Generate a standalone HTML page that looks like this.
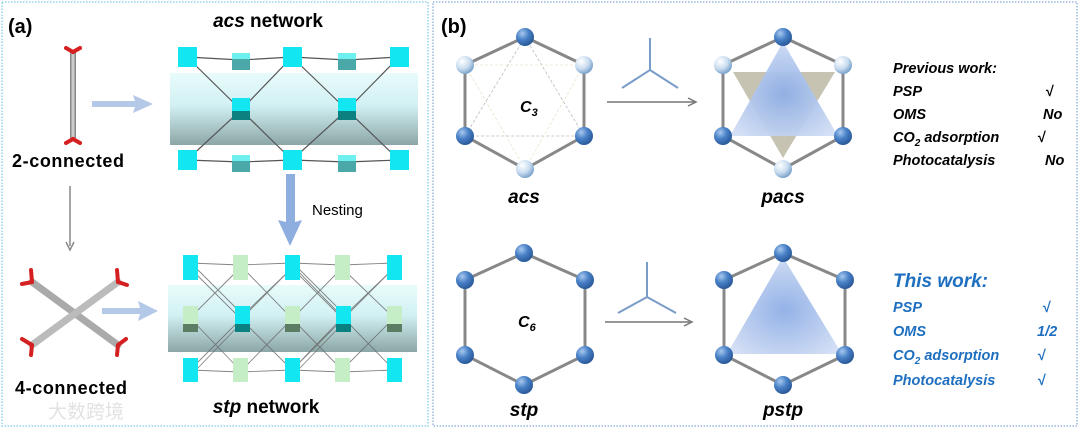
<!DOCTYPE html>
<html><head><meta charset="utf-8"><style>
body{margin:0;background:#fff;width:1080px;height:429px;overflow:hidden}
svg{display:block}
text{font-family:"Liberation Sans",sans-serif}
</style></head><body>
<svg width="1080" height="429" viewBox="0 0 1080 429" xmlns="http://www.w3.org/2000/svg">
<defs>
<radialGradient id="sb" cx="35%" cy="30%" r="70%"><stop offset="0" stop-color="#a8c8ee"/><stop offset="0.5" stop-color="#4a82c8"/><stop offset="1" stop-color="#2a5a9a"/></radialGradient>
<radialGradient id="sl" cx="35%" cy="30%" r="70%"><stop offset="0" stop-color="#ffffff"/><stop offset="0.6" stop-color="#c8dcf0"/><stop offset="1" stop-color="#7ea4cc"/></radialGradient>
<linearGradient id="cyl" x1="0" y1="0" x2="0" y2="1"><stop offset="0" stop-color="#e6fbfb"/><stop offset="0.45" stop-color="#cdeff2"/><stop offset="1" stop-color="#7f9c9c"/></linearGradient>
<radialGradient id="tri" cx="50%" cy="55%" r="60%"><stop offset="0" stop-color="#8eaee6"/><stop offset="1" stop-color="#d2def4"/></radialGradient>
<linearGradient id="rod" x1="0" y1="0" x2="1" y2="0"><stop offset="0" stop-color="#777"/><stop offset="0.5" stop-color="#ddd"/><stop offset="1" stop-color="#777"/></linearGradient>
</defs>
<rect x="2" y="2" width="426" height="424" fill="none" stroke="#8fd4ea" stroke-width="1.5" stroke-dasharray="1.5 1.5"/>
<rect x="433" y="2" width="644" height="424" fill="none" stroke="#9ab8e0" stroke-width="1.5" stroke-dasharray="1.5 1.5"/>

<text x="8" y="33" font-size="20" font-weight="bold">(a)</text>
<text x="268" y="27" font-size="19" font-weight="bold" text-anchor="middle"><tspan font-style="italic">acs</tspan> network</text>
<rect x="70" y="52" width="6" height="86" fill="url(#rod)"/>
<g stroke="#d42020" stroke-width="4" stroke-linecap="round">
<line x1="73" y1="52" x2="66" y2="48"/><line x1="73" y1="52" x2="80" y2="48"/>
<line x1="73" y1="139" x2="66" y2="143"/><line x1="73" y1="139" x2="80" y2="143"/></g>
<text x="12" y="167" font-size="18" font-weight="bold" letter-spacing="0.6">2-connected</text>
<path d="M92,101 L135,101 L133,95 L153,104 L133,113 L135,107 L92,107 Z" fill="#b4c8e8"/>
<line x1="70" y1="186" x2="70" y2="246" stroke="#888" stroke-width="1.5"/>
<path d="M66,242 L70,250 L74,242" fill="none" stroke="#888" stroke-width="1.5"/>
<g stroke-width="7" stroke-linecap="round">
<line x1="32" y1="282" x2="118" y2="345" stroke="#aaa"/><line x1="118" y1="282" x2="32" y2="345" stroke="#bbb"/></g>
<g stroke="#d42020" stroke-width="4" stroke-linecap="round">
<line x1="32" y1="282" x2="31" y2="270"/><line x1="32" y1="282" x2="22" y2="284"/>
<line x1="118" y1="282" x2="117" y2="270"/><line x1="118" y1="282" x2="127" y2="285"/>
<line x1="32" y1="345" x2="22" y2="339"/><line x1="32" y1="345" x2="31" y2="355"/>
<line x1="118" y1="345" x2="126" y2="339"/><line x1="118" y1="345" x2="117" y2="355"/></g>
<path d="M102,308 L140,308 L138,301 L158,311 L138,321 L140,314 L102,314 Z" fill="#b4c8e8"/>
<text x="15" y="394" font-size="18" font-weight="bold" letter-spacing="0.6">4-connected</text>
<text x="48" y="418" font-size="19" fill="#e2e2e2" font-family="Liberation Sans,Noto Sans CJK SC,sans-serif">大数跨境</text>

<rect x="170" y="73" width="248" height="72" fill="url(#cyl)" opacity="0.9"/>
<g stroke="#555" stroke-width="1.2">
<polyline points="187,57 241,60 292,57 347,60 399,57" fill="none"/>
<polyline points="187,160 241,162 292,160 347,162 399,160" fill="none"/>
<line x1="187" y1="57" x2="241" y2="110"/><line x1="292" y1="57" x2="241" y2="110"/>
<line x1="292" y1="57" x2="347" y2="110"/><line x1="399" y1="57" x2="347" y2="110"/>
<line x1="187" y1="160" x2="241" y2="110"/><line x1="292" y1="160" x2="241" y2="110"/>
<line x1="292" y1="160" x2="347" y2="110"/><line x1="399" y1="160" x2="347" y2="110"/></g>
<g fill="#12e6f0">
<rect x="178" y="47" width="19" height="20"/><rect x="283" y="47" width="19" height="20"/><rect x="390" y="47" width="19" height="20"/>
<rect x="178" y="150" width="19" height="20"/><rect x="283" y="150" width="19" height="20"/><rect x="390" y="150" width="19" height="20"/>
<rect x="232" y="98" width="18" height="22"/><rect x="338" y="98" width="18" height="22"/></g>
<g fill="#4aa8a8"><rect x="232" y="53" width="18" height="17"/><rect x="338" y="53" width="18" height="17"/>
<rect x="232" y="155" width="18" height="17"/><rect x="338" y="155" width="18" height="17"/>
<rect x="232" y="111" width="18" height="9" fill="#0a8080"/><rect x="338" y="111" width="18" height="9" fill="#0a8080"/></g>
<g fill="#6ef0f0"><rect x="232" y="53" width="18" height="6"/><rect x="338" y="53" width="18" height="6"/><rect x="232" y="155" width="18" height="6"/><rect x="338" y="155" width="18" height="6"/></g>
<path d="M286,174 L295,174 L295,222 L302,220 L290,246 L278,220 L286,222 Z" fill="#8eaee0"/>
<text x="312" y="215" font-size="15">Nesting</text>

<rect x="168" y="285" width="249" height="67" fill="url(#cyl)" opacity="0.9"/>
<g stroke="#666" stroke-width="0.9" opacity="0.8">
<polyline points="190,263 240,265 292,263 342,265 394,263" fill="none"/>
<polyline points="190,370 240,372 292,370 342,372 394,370" fill="none"/>
<path d="M190,268 L240,318 L292,268 L342,318 L394,268 M190,268 L292,370 M240,265 L342,370 M292,265 L394,370 M190,370 L292,268 M240,372 L342,268 M292,370 L394,268 M190,318 L240,268 M190,318 L240,370 M394,318 L342,268 M394,318 L342,370 M240,318 L292,370 M342,318 L292,370" fill="none"/>
<path d="M196,268 L246,318 M196,370 L246,318 M298,268 L348,318 M298,370 L348,318" fill="none"/></g>
<g fill="#12e6f0">
<rect x="183" y="255" width="15" height="25"/><rect x="285" y="255" width="15" height="25"/><rect x="387" y="255" width="15" height="25"/>
<rect x="183" y="358" width="15" height="24"/><rect x="285" y="358" width="15" height="24"/><rect x="387" y="358" width="15" height="24"/>
<rect x="235" y="306" width="15" height="26"/><rect x="336" y="306" width="15" height="26"/></g>
<g fill="#c6eec6"><rect x="233" y="255" width="15" height="25"/><rect x="335" y="255" width="15" height="25"/>
<rect x="233" y="358" width="15" height="24"/><rect x="335" y="358" width="15" height="24"/>
<rect x="183" y="306" width="15" height="20"/><rect x="285" y="306" width="15" height="20"/><rect x="387" y="306" width="15" height="20"/></g>
<g fill="#5c7c64"><rect x="183" y="324" width="15" height="8"/><rect x="285" y="324" width="15" height="8"/><rect x="387" y="324" width="15" height="8"/></g>
<g fill="#0a8080"><rect x="235" y="324" width="15" height="8"/><rect x="336" y="324" width="15" height="8"/></g>
<text x="266" y="413" font-size="19" font-weight="bold" text-anchor="middle"><tspan font-style="italic">stp</tspan> network</text>

<text x="441" y="33" font-size="20" font-weight="bold">(b)</text>
<g stroke="#888" stroke-width="3" fill="none">
<polygon points="525,37 584,65 584,136 525,169 465,136 465,65"/>
<polygon points="783,37 843,65 843,136 783,169 723,136 723,65"/>
<polygon points="524,253 585,280 585,355 524,385 465,355 465,280"/>
<polygon points="783,253 845,280 845,355 783,385 724,355 724,280"/></g>
<g stroke="#bbb" stroke-width="0.8" stroke-dasharray="3 2" fill="none">
<polygon points="525,37 584,136 465,136"/><polygon points="465,65 584,65 525,169" stroke="#e8e4cc"/></g>
<text x="520" y="112" font-size="16" font-style="italic" font-weight="bold">C<tspan font-size="11" dy="4">3</tspan></text>
<polygon points="733,72 835,72 783,158" fill="#b8b4a0" opacity="0.8"/>
<polygon points="783,42 838,136 730,136" fill="url(#tri)" opacity="0.95"/>
<polygon points="783,257 842,354 727,354" fill="url(#tri)" opacity="0.95"/>
<text x="518" y="327" font-size="16" font-style="italic" font-weight="bold">C<tspan font-size="11" dy="4">6</tspan></text>
<g fill="url(#sb)">
<circle cx="525" cy="37" r="9"/><circle cx="465" cy="136" r="9"/><circle cx="584" cy="136" r="9"/>
<circle cx="783" cy="37" r="9"/><circle cx="723" cy="136" r="9"/><circle cx="843" cy="136" r="9"/>
<circle cx="524" cy="253" r="9"/><circle cx="585" cy="280" r="9"/><circle cx="585" cy="355" r="9"/><circle cx="524" cy="385" r="9"/><circle cx="465" cy="355" r="9"/><circle cx="465" cy="280" r="9"/>
<circle cx="783" cy="253" r="9"/><circle cx="845" cy="280" r="9"/><circle cx="845" cy="355" r="9"/><circle cx="783" cy="385" r="9"/><circle cx="724" cy="355" r="9"/><circle cx="724" cy="280" r="9"/></g>
<g fill="url(#sl)">
<circle cx="465" cy="65" r="9"/><circle cx="584" cy="65" r="9"/><circle cx="525" cy="169" r="9"/>
<circle cx="723" cy="65" r="9"/><circle cx="843" cy="65" r="9"/><circle cx="783" cy="169" r="9"/></g>
<g stroke="#777" stroke-width="1.5" fill="none">
<line x1="607" y1="102" x2="694" y2="102"/><path d="M688,98 L696,102 L688,106"/>
<line x1="605" y1="322" x2="690" y2="322"/><path d="M684,318 L692,322 L684,326"/></g>
<g stroke="#7a9cc8" stroke-width="2" fill="none">
<path d="M650,38 L650,70 L622,88 M650,70 L678,88"/>
<path d="M647,262 L647,297 L618,313 M647,297 L676,313"/></g>
<g font-size="19" font-weight="bold" font-style="italic" text-anchor="middle">
<text x="524" y="203">acs</text><text x="783" y="203">pacs</text>
<text x="524" y="416">stp</text><text x="783" y="416">pstp</text></g>
<g font-size="14.5" font-weight="bold" font-style="italic">
<text x="893" y="73">Previous work:</text>
<text x="893" y="96">PSP</text><text x="1045" y="96">√</text>
<text x="893" y="119">OMS</text><text x="1043" y="119">No</text>
<text x="893" y="142">CO<tspan font-size="10" dy="4">2</tspan><tspan dy="-4"> adsorption</tspan></text><text x="1037" y="142">√</text>
<text x="893" y="165">Photocatalysis</text><text x="1045" y="165">No</text>
</g>
<g font-size="14.5" font-weight="bold" font-style="italic" fill="#1e6fc0">
<text x="893" y="287" font-size="19">This work:</text>
<text x="893" y="312">PSP</text><text x="1042" y="312">√</text>
<text x="893" y="336">OMS</text><text x="1037" y="336">1/2</text>
<text x="893" y="360">CO<tspan font-size="10" dy="4">2</tspan><tspan dy="-4"> adsorption</tspan></text><text x="1037" y="360">√</text>
<text x="893" y="385">Photocatalysis</text><text x="1037" y="385">√</text>
</g>
</svg>
</body></html>
